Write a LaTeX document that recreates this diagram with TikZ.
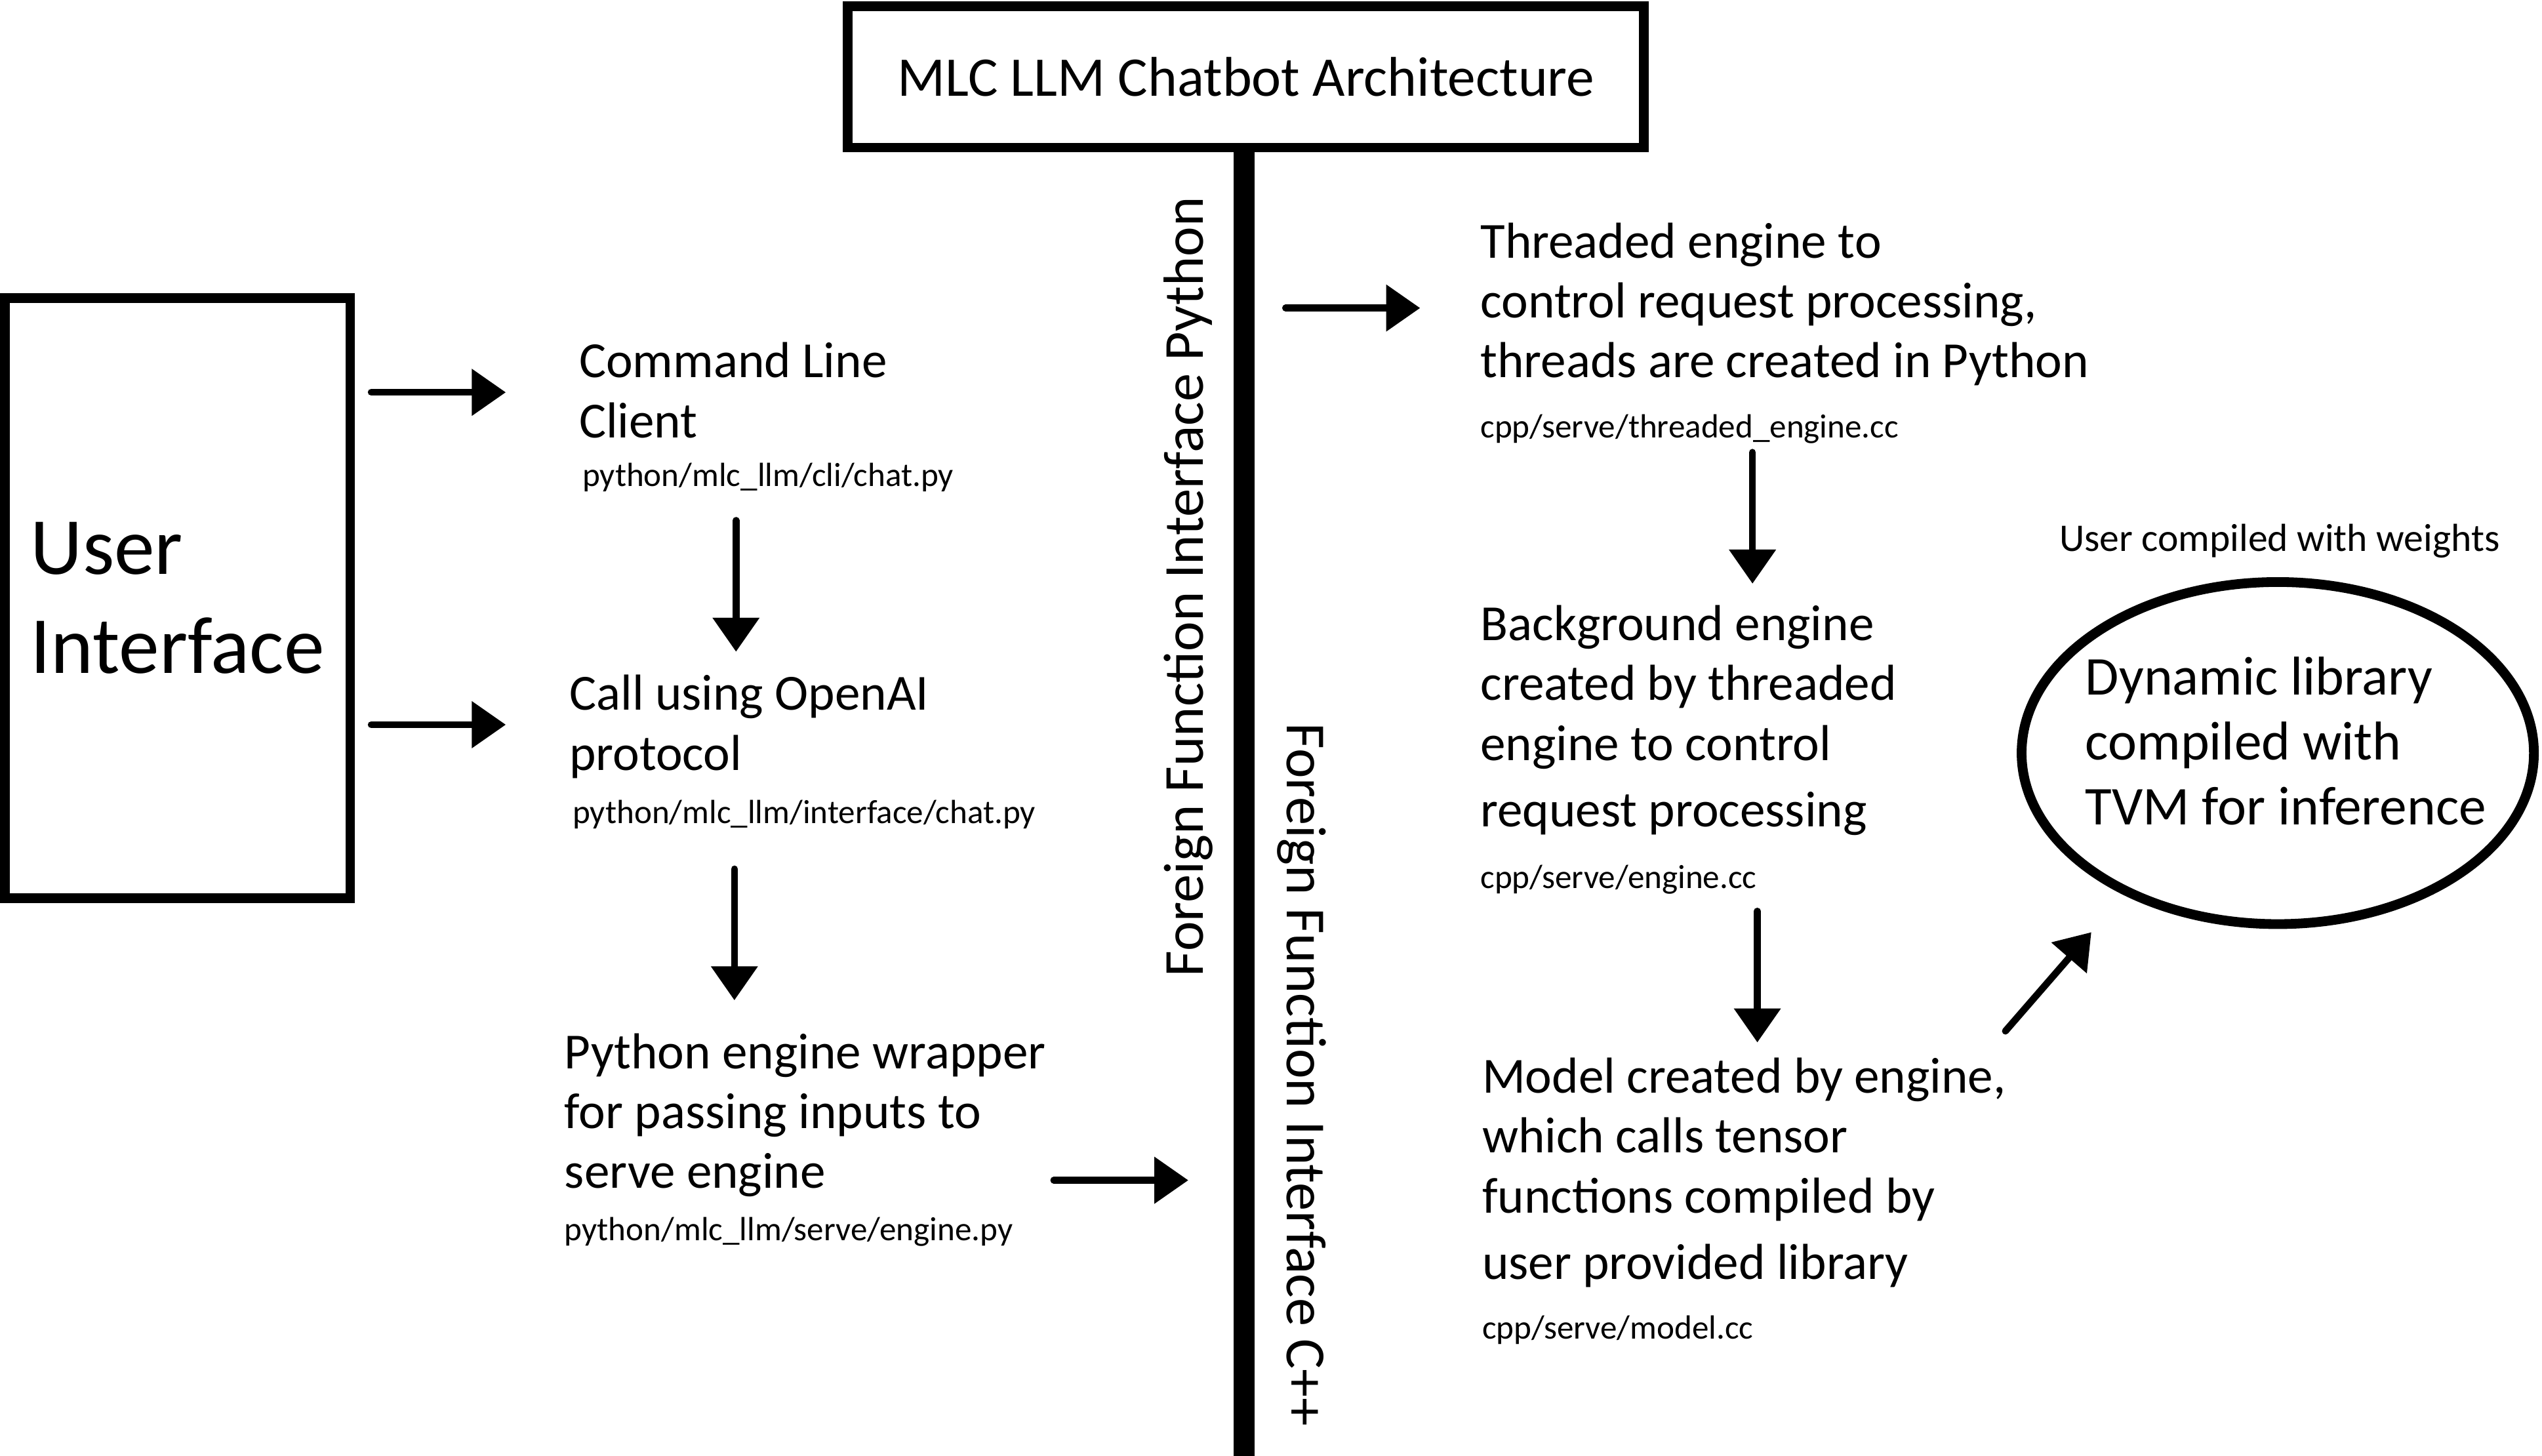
\documentclass[tikz,border=0pt]{standalone}
\usepackage{fontspec}
\setmainfont{Carlito}
\usetikzlibrary{arrows.meta,shapes.geometric}

\tikzset{
  body/.style={anchor=base west, inner sep=0pt, align=left, font=\fontsize{23.4}{27.75}\selectfont},
  srcfile/.style={anchor=base west, inner sep=0pt, font=\fontsize{15.5}{18}\selectfont},
  ffi/.style={inner sep=0pt, font=\fontsize{26.2}{30}\selectfont},
  thickbox/.style={draw, line width=4.5pt, inner sep=0pt},
  arr/.style={line width=3.2pt, line cap=round, -{Triangle[length=15.75pt,width=21pt]}},
}

\begin{document}
\begin{tikzpicture}[x=0.75pt,y=0.75pt,yscale=-1,xscale=1]
\useasboundingbox (0,0) rectangle (1568,898);

% Title and the FFI bar
\node [thickbox, minimum width=368.25pt, minimum height=65.25pt, font=\fontsize{25.9}{30}\selectfont] (title) at (768.5,47.5) {MLC LLM Chatbot Architecture};
\coordinate (barend) at (767.5,898);
\draw [line width=9.75pt] (title.south -| barend) -- (barend);
\node [ffi, rotate=90] (ffipy) at (733,362) {Foreign Function Interface Python};
\node [ffi, rotate=-90] (fficpp) at (803,663) {Foreign Function Interface C++};

% User interface box
\node [thickbox, minimum width=159.75pt, minimum height=277.5pt, align=left, font=\fontsize{37.5}{45.75}\selectfont] (ui) at (109.5,369) {User\\Interface};

% Python side (base = last line)
\node [body] (cli) at (357,270) {Command Line\\Client};
\node [srcfile] (clisrc) at (359,300) {python/mlc\_llm/cli/chat.py};
\node [body] (openai) at (351,475) {Call using OpenAI\\protocol};
\node [srcfile] (openaisrc) at (353,508) {python/mlc\_llm/interface/chat.py};
\node [body] (pyeng) at (348,733) {Python engine wrapper\\for passing inputs to\\serve engine};
\node [srcfile] (pyengsrc) at (348,765) {python/mlc\_llm/serve/engine.py};

% C++ side
\node [body] (thr) at (913,233) {Threaded engine to\\control request processing,\\threads are created in Python};
\node [srcfile] (thrsrc) at (913,270) {cpp/serve/threaded\_engine.cc};
\node [body] (bg) at (913,510) {Background engine\\created by threaded\\engine to control\\[3pt]request processing};
\node [srcfile] (bgsrc) at (913,548) {cpp/serve/engine.cc};
\node [body] (model) at (914,789) {Model created by engine,\\which calls tensor\\functions compiled by\\[3pt]user provided library};
\node [srcfile] (modelsrc) at (914,826) {cpp/serve/model.cc};

% Dynamic library
\node [srcfile, font=\fontsize{18.1}{21}\selectfont] (weights) at (1270,340) {User compiled with weights};
\node [thickbox, ellipse, minimum width=237pt, minimum height=158.25pt] (dyn) at (1405,464.5) {};
\node [body, anchor=center, font=\fontsize{25.3}{30}\selectfont] (dyntxt) at (1410,457) {Dynamic library\\compiled with\\TVM for inference};

% Arrows
\coordinate (a1s) at (229,242);  \coordinate (a1e) at (312,242);
\coordinate (a2s) at (229,447);  \coordinate (a2e) at (312,447);
\coordinate (a3s) at (454,321);  \coordinate (a3e) at (454,402);
\coordinate (a4s) at (453,536);  \coordinate (a4e) at (453,617);
\coordinate (a5s) at (650,728);  \coordinate (a5e) at (733,728);
\coordinate (a6s) at (793,190);  \coordinate (a6e) at (876,190);
\coordinate (a7s) at (1081,279); \coordinate (a7e) at (1081,360);
\coordinate (a8s) at (1084,562); \coordinate (a8e) at (1084,643);
\coordinate (a9s) at (1237,636); \coordinate (a9e) at (1290,575);
\foreach \i in {1,...,9}
  \draw [arr] (a\i s) -- (a\i e);

\end{tikzpicture}
\end{document}
